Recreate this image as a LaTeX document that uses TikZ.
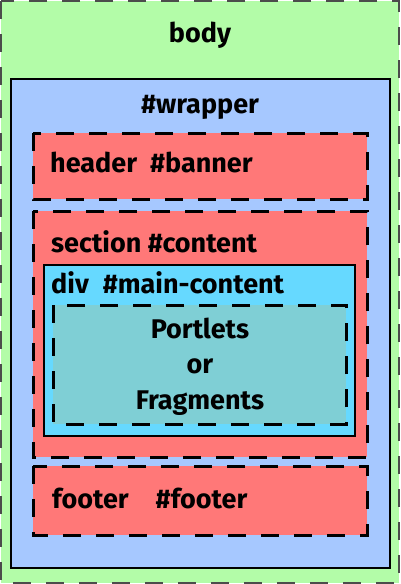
\documentclass[tikz,border=0pt]{standalone}
\usepackage{fontspec}
\setmainfont{Fira Sans}
\usepackage{tikz}
\usetikzlibrary{positioning, calc}

\definecolor{bodygreen}{HTML}{B3FCA8}
\definecolor{wrapblue}{HTML}{A6C8FF}
\definecolor{boxred}{HTML}{FF7878}
\definecolor{divcyan}{HTML}{66D9FF}
\definecolor{portteal}{HTML}{7FCFD5}

\tikzset{
    dashbox/.style={draw=black, line width=3pt, dash pattern=on 18pt off 15pt},
    solidbox/.style={draw=black, line width=2pt},
    lbl/.style={font=\fontsize{27}{31}\selectfont\bfseries, inner sep=0pt}
}

\begin{document}
\begin{tikzpicture}[x=1pt, y=-1pt]
    \useasboundingbox (0,0) rectangle (400,584);
    % body
    \filldraw[fill=bodygreen, draw=black!70, line width=1.8pt, dash pattern=on 18pt off 15pt]
        (1,1) rectangle (399,583);
    \node[lbl, anchor=base] (bodylbl) at (200,42) {body};
    % wrapper
    \filldraw[fill=wrapblue, solidbox] (11,79) rectangle (390,568);
    \node[lbl, anchor=base] (wraplbl) at (200,113) {\#wrapper};
    % header
    \filldraw[fill=boxred, dashbox] (33,133) rectangle (367,199);
    \node[lbl, anchor=base west] (headlbl) at (50,172) {header\hspace{13pt}\#banner};
    % section
    \filldraw[fill=boxred, dashbox] (33,211) rectangle (367,457);
    \node[lbl, anchor=base west] (seclbl) at (51,252) {section \#content};
    % div
    \filldraw[fill=divcyan, solidbox] (44,265) rectangle (355,436);
    \node[lbl, anchor=base west] (divlbl) at (51,293) {div\hspace{14pt}\#main-content};
    % portlets
    \filldraw[fill=portteal, dashbox] (53,305) rectangle (346,424);
    \node[lbl, anchor=base] (portlbl) at (200,338) {Portlets};
    \node[lbl, anchor=base] (orlbl) at (200,373) {or};
    \node[lbl, anchor=base] (fraglbl) at (200,409) {Fragments};
    % footer
    \filldraw[fill=boxred, dashbox] (33,466) rectangle (367,535);
    \node[lbl, anchor=base west] (footlbl) at (52,508) {footer\hspace{27pt}\#footer};
\end{tikzpicture}
\end{document}
